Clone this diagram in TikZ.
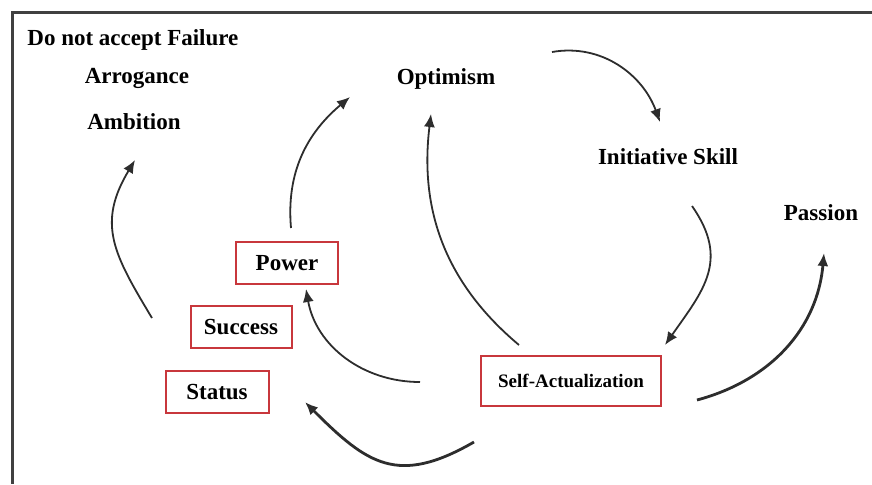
\documentclass[tikz,border=0pt]{standalone}
\usepackage{fontspec}
\setmainfont{Liberation Serif}
\usetikzlibrary{arrows.meta}
\definecolor{boxred}{RGB}{200,55,60}
\definecolor{arrgray}{RGB}{45,45,45}
\tikzset{
  lbl/.style={font=\bfseries\fontsize{11.5}{13}\selectfont, inner sep=0pt},
  cbox/.style={draw=boxred, line width=1pt, font=\bfseries\fontsize{11.5}{13}\selectfont, minimum height=21pt, inner sep=0pt},
  arr/.style={draw=arrgray, line width=0.9pt, -{Latex[length=6.5pt,width=5.5pt]}},
  arrthick/.style={arr, line width=1.4pt}
}

\begin{document}
\begin{tikzpicture}[x=0.5pt, y=0.5pt]
    \useasboundingbox (0,0) rectangle (872,-484);
    % frame
    \draw[line width=1.5pt, black!75] (872,-12) -- (12,-12) -- (12,-484);
    % labels
    \node[lbl, anchor=west] (fail) at (27,-40) {Do not accept Failure};
    \node[lbl] (arro) at (137,-78) {Arrogance};
    \node[lbl] (ambi) at (134,-122) {Ambition};
    \node[lbl] (opti) at (446,-79) {Optimism};
    \node[lbl] (init) at (668,-157) {Initiative Skill};
    \node[lbl] (pass) at (821,-213) {Passion};
    % boxes
    \node[cbox, minimum width=51pt] (power) at (287,-263) {Power};
    \node[cbox, minimum width=50.5pt] (succ) at (241,-327) {Success};
    \node[cbox, minimum width=51.5pt] (stat) at (217,-392) {Status};
    \node[cbox, minimum width=90pt, minimum height=25pt, font=\bfseries\fontsize{9.5}{11}\selectfont] (self) at (571,-381) {Self-Actualization};
    % free ends
    \coordinate (a1s) at (152,-318); \coordinate (a1e) at (135,-160);
    \coordinate (a2s) at (291,-228); \coordinate (a2e) at (350,-97);
    \coordinate (a3s) at (519,-345); \coordinate (a3e) at (431,-114);
    \coordinate (a4s) at (552,-52);  \coordinate (a4e) at (660,-122);
    \coordinate (a5s) at (692,-206); \coordinate (a5e) at (665,-345);
    \coordinate (a6s) at (697,-400); \coordinate (a6e) at (824,-253);
    \coordinate (a7s) at (420,-382); \coordinate (a7e) at (306,-289);
    \coordinate (a8s) at (474,-442); \coordinate (a8e) at (305,-402);
    % arrows
    \draw[arr] (a1s) to[out=121, in=-121, looseness=1.2] (a1e);
    \draw[arr] (a2s) to[out=95, in=-140] (a2e);
    \draw[arr] (a3s) to[out=140, in=-97] (a3e);
    \draw[arr] (a4s) to[out=10, in=110] (a4e);
    \draw[arr] (a5s) to[out=-55, in=55, looseness=1.2] (a5e);
    \draw[arrthick] (a6s) to[out=15, in=-95] (a6e);
    \draw[arr] (a7s) to[out=180, in=-80] (a7e);
    \draw[arrthick] (a8s) to[out=210, in=-45, looseness=1.3] (a8e);
\end{tikzpicture}
\end{document}
